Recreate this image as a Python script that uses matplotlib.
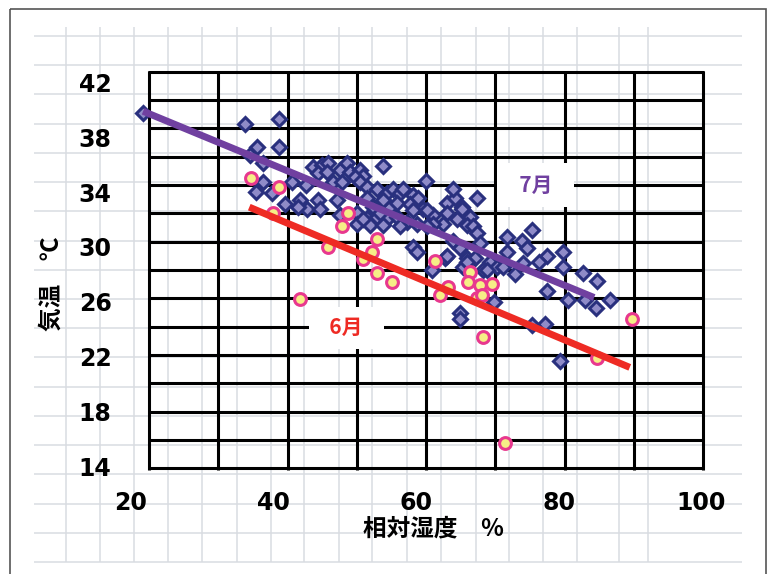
import numpy as np
import matplotlib
matplotlib.use("Agg")
from matplotlib import pyplot as plt
from matplotlib.patches import Rectangle

# 7月: 相対湿度(%) と 気温(℃)
jul_rh = [21.7, 36.0, 40.8, 37.7, 40.8, 36.7, 38.5, 38.5, 37.5, 39.8,
          41.6, 42.6, 43.7, 44.7, 44.6, 45.5, 46.8, 47.6, 46.2, 47.5,
          49.3, 50.3, 50.7, 52.1, 52.6, 51.4, 55.4, 48.4, 49.6, 52.1,
          53.1, 54.5, 55.9, 56.8, 43.4, 46.2, 46.5, 48.9, 49.3, 51.7,
          53.1, 54.5, 55.9, 57.3, 54.0, 56.4, 51.7, 53.5, 55.4, 57.8,
          59.6, 57.3, 59.2, 61.0, 64.4, 65.5, 65.2, 68.6, 66.5, 62.4,
          64.4, 65.8, 67.6, 63.8, 62.4, 67.2, 68.0, 68.6, 65.2, 66.2,
          69.0, 67.2, 68.3, 70.4, 59.6, 60.1, 64.1, 66.6, 69.4, 71.4,
          72.2, 72.8, 72.8, 58.7, 60.1, 61.5, 57.8, 61.4, 76.3, 74.9,
          75.6, 78.4, 77.3, 80.6, 80.6, 75.0, 73.9, 83.4, 85.4, 78.4,
          81.3, 83.7, 87.2, 85.3, 78.1, 76.3, 80.2, 70.9, 62.2, 66.2,
          66.2, 54.9, 55.4, 53.1, 58.2, 60.3, 59.6, 61.5, 67.2, 70.0,
          64.4, 66.5, 52.6]
jul_temp = [39.8, 39.0, 39.3, 37.3, 37.3, 36.7, 36.1, 34.7, 34.0, 33.9,
            33.1, 34.7, 33.4, 32.8, 34.5, 35.8, 36.0, 36.1, 35.4, 35.5,
            35.6, 36.1, 35.5, 35.6, 35.2, 35.1, 35.9, 34.7, 34.7, 34.7,
            34.4, 34.2, 33.9, 34.2, 32.9, 33.4, 32.8, 33.4, 32.3, 32.5,
            32.1, 32.2, 32.0, 32.2, 32.9, 32.9, 31.7, 31.6, 31.6, 33.9,
            33.8, 33.2, 33.1, 32.8, 33.2, 33.6, 34.2, 33.6, 32.9, 32.3,
            32.5, 32.0, 32.2, 31.7, 31.7, 31.6, 31.5, 31.0, 30.4, 29.9,
            30.3, 29.2, 29.2, 28.9, 30.0, 29.6, 29.2, 28.5, 28.3, 28.5,
            28.5, 29.6, 30.7, 31.8, 31.7, 31.5, 31.5, 34.8, 31.2, 30.4,
            29.9, 29.3, 28.9, 29.6, 28.5, 28.8, 28.0, 28.1, 27.5, 26.8,
            26.1, 26.1, 26.1, 25.5, 24.4, 24.3, 21.7, 26.0, 28.3, 25.2,
            24.7, 32.5, 33.4, 33.6, 34.2, 33.6, 32.7, 32.7, 28.9, 28.3,
            29.3, 32.8, 32.0]

# 6月
jun_rh = [36.8, 40.8, 39.9, 43.7, 47.6, 49.6, 50.5, 54.5, 53.8, 52.6,
          54.5, 56.6, 62.7, 63.4, 64.5, 67.6, 67.3, 69.0, 70.7, 68.6,
          69.3, 69.4, 72.5, 85.4, 90.3]
jun_temp = [35.0, 34.4, 32.5, 26.2, 30.0, 31.5, 32.5, 30.6, 29.6, 29.1,
            28.1, 27.4, 29.0, 26.5, 27.1, 28.2, 27.4, 27.2, 27.3, 26.3,
            26.5, 23.4, 15.7, 21.9, 24.7]

# 近似直線
jul_fit_rh = [21.7, 85.0]
jul_fit_temp = [39.9, 26.3]
jun_fit_rh = [36.6, 90.0]
jun_fit_temp = [32.9, 21.2]

xticks = [20, 40, 60, 80, 100]
yticks = [14, 18, 22, 26, 30, 34, 38, 42]

W, H = 773, 574
cjk = ['Noto Sans CJK JP', 'DejaVu Sans']

fig = plt.figure(figsize=(W / 100, H / 100), dpi=100)

# シートのセル罫線 (背景)
bg = fig.add_axes([0, 0, 1, 1])
bg.set_xlim(0, W)
bg.set_ylim(H, 0)
bg.axis('off')
sheet_cols = [66, 100, 134, 168, 202, 237, 271, 304, 339, 372,
              407, 441, 476, 509, 543, 577, 619, 648]
sheet_rows = np.linspace(36, 562, 19)
bg.hlines(sheet_rows, 34, 742, color='#d9dce1', lw=1.1)
bg.vlines(sheet_cols, 27, 562, color='#d9dce1', lw=1.1)
box_cols = np.linspace(149, 703, 9)
box_rows = np.linspace(71.7, 468.4, 15)
bg.hlines(box_rows, 148, 704, color='black', lw=2.2)
bg.vlines(box_cols, 70.6, 469.5, color='black', lw=2.2)
bg.add_patch(Rectangle((10, 9), 756, 600, fill=False, ec='#555555', lw=1.2))

# グラフ本体
x0, x1, y0, y1 = 131, 701, 82.5, 466
ax = fig.add_axes([x0 / W, (H - y1) / H, (x1 - x0) / W, (y1 - y0) / H])
ax.patch.set_alpha(0)
for s in ax.spines.values():
    s.set_visible(False)
ax.set_xlim(20, 100)
ax.set_ylim(14, 42)
ax.set_xticks(xticks)
ax.set_yticks(yticks)
ax.tick_params(axis='both', length=0, labelsize=17)
ax.tick_params(axis='x', pad=18)
ax.tick_params(axis='y', pad=14)
for lab in ax.get_xticklabels() + ax.get_yticklabels():
    lab.set_fontweight('bold')

ax.plot(jul_rh, jul_temp, 'D', ms=7, mfc='#8f8bc8', mec='#29307e', mew=2.2,
        ls='none', zorder=3)
ax.plot(jun_rh, jun_temp, 'o', ms=8.5, mfc='#f6ee86', mec='#e8388e', mew=2.2,
        ls='none', zorder=4)
ax.plot(jul_fit_rh, jul_fit_temp, color='#7040a0', lw=5, solid_capstyle='butt', zorder=5)
ax.plot(jun_fit_rh, jun_fit_temp, color='#ee2b24', lw=5, solid_capstyle='butt', zorder=5)

ax.text(76.8, 34.5, '\u20027月\u2002', ha='center', va='center', color='#7040a0',
        fontsize=15, fontweight='bold', family=cjk, zorder=6,
        bbox=dict(boxstyle='square,pad=0.55', fc='white', ec='none'))
ax.text(50.2, 24.1, '\u20026月\u2002', ha='center', va='center', color='#ee2b24',
        fontsize=15, fontweight='bold', family=cjk, zorder=6,
        bbox=dict(boxstyle='square,pad=0.5', fc='white', ec='none'))

ax.set_xlabel('相対湿度　%', fontsize=17, fontweight='bold', family=cjk)
ax.xaxis.set_label_coords((433 - x0) / (x1 - x0), (y1 - 516) / (y1 - y0))
ax.set_ylabel('気温　℃', fontsize=17, fontweight='bold', family=cjk)
ax.yaxis.set_label_coords((64 - x0) / (x1 - x0), (y1 - 284) / (y1 - y0))

plt.savefig('out.png', dpi=100)
plt.close()
